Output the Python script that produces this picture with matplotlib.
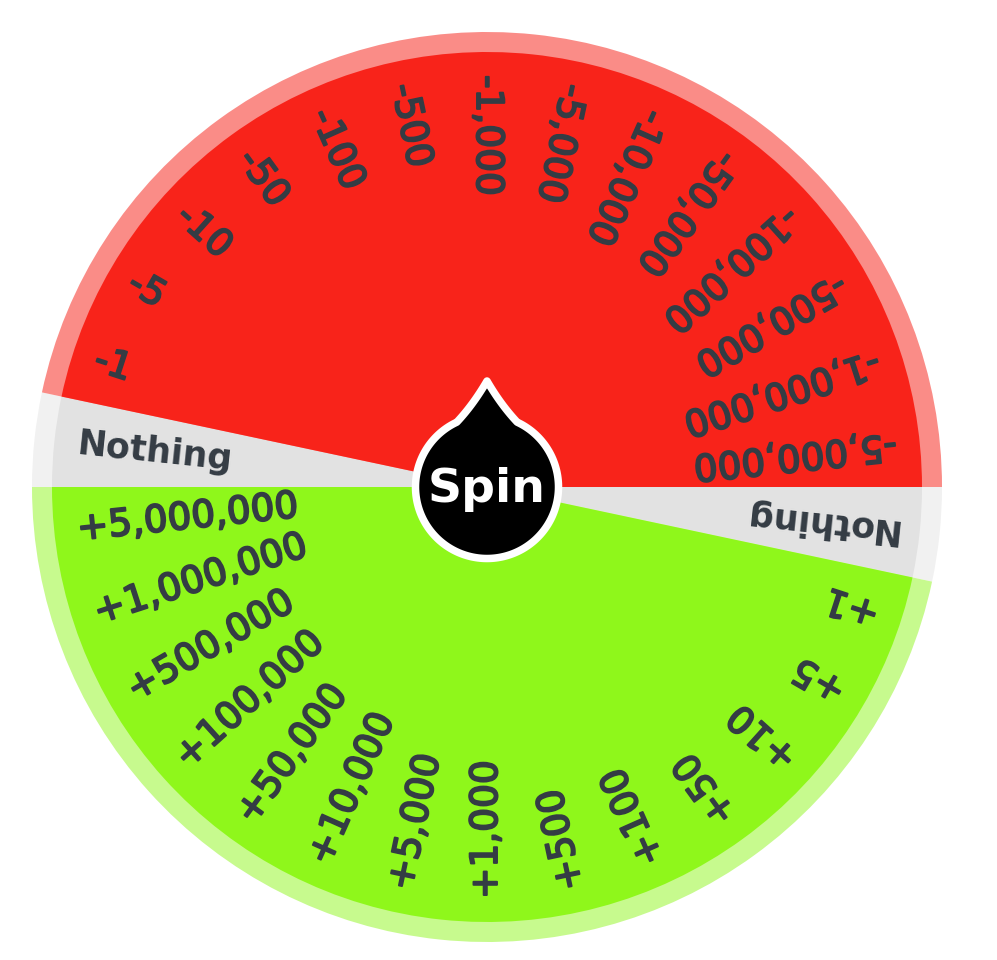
import numpy as np
import matplotlib
matplotlib.use("Agg")
from matplotlib import pyplot as plt
from matplotlib.patches import Wedge, Polygon
import matplotlib.patheffects as pe

# wheel entries, clockwise starting at the left edge (180 deg)
red_labels = ["-1", "-5", "-10", "-50", "-100", "-500", "-1,000", "-5,000",
              "-10,000", "-50,000", "-100,000", "-500,000", "-1,000,000",
              "-5,000,000"]
green_labels = ["+1", "+5", "+10", "+50", "+100", "+500", "+1,000", "+5,000",
                "+10,000", "+50,000", "+100,000", "+500,000", "+1,000,000",
                "+5,000,000"]
nothing_label = "Nothing"

labels = [nothing_label] + red_labels + [nothing_label] + green_labels
kinds = ["grey"] + ["red"] * len(red_labels) + ["grey"] + ["green"] * len(green_labels)

fill = {"red": "#f8231a", "green": "#8ff71b", "grey": "#e2e2e2"}
rim = {"red": "#fa8c87", "green": "#c7fa8e", "grey": "#f1f1f1"}
text_col = "#343c44"

W, H = 997, 960
cx, cy = 487, H - 487
R_out, R_in = 455, 435

fig = plt.figure(figsize=(W / 100, H / 100), dpi=100)
ax = fig.add_axes([0, 0, 1, 1])
ax.set_xlim(0, W)
ax.set_ylim(0, H)
ax.set_aspect("equal")
ax.axis("off")

n = len(labels)
step = 360.0 / n

# colour areas: one wedge per run of same-kind slices (no seams)
i = 0
while i < n:
    j = i
    while j + 1 < n and kinds[j + 1] == kinds[i]:
        j += 1
    a1 = 180 - i * step
    a0 = 180 - (j + 1) * step
    k = kinds[i]
    ax.add_patch(Wedge((cx, cy), R_out, a0, a1, facecolor=rim[k], lw=0))
    ax.add_patch(Wedge((cx, cy), R_in, a0, a1, facecolor=fill[k], lw=0))
    i = j + 1

for i, (lab, kind) in enumerate(zip(labels, kinds)):
    mid = np.deg2rad(180 - (i + 0.5) * step)
    r_txt = 412
    x = cx + r_txt * np.cos(mid)
    y = cy + r_txt * np.sin(mid)
    rot = np.rad2deg(mid) + 180
    if kind == "grey":
        ax.text(x, y, lab, rotation=rot, rotation_mode="anchor", ha="left", va="center",
                fontsize=25, fontweight="bold", color=text_col, family="DejaVu Sans")
    else:
        ax.text(x, y, lab, rotation=rot, rotation_mode="anchor", ha="left", va="center",
                fontsize=27, color=text_col, family="DejaVu Sans",
                path_effects=[pe.withStroke(linewidth=1.4, foreground=text_col)])

# spin button: circle with a pointer on top
Rb = 71.5
join = np.deg2rad(25)
arc = np.linspace(np.pi / 2 + join, np.pi / 2 + 2 * np.pi - join, 200)
pts = [(cx + Rb * np.cos(t), cy + Rb * np.sin(t)) for t in arc]
tip = np.array([cx, cy + 106])
p0 = np.array(pts[-1])
ctrl = np.array([cx + 14, cy + 82])
for t in np.linspace(0, 1, 30):
    pts.append(tuple((1 - t) ** 2 * p0 + 2 * (1 - t) * t * ctrl + t ** 2 * tip))
p1 = np.array(pts[0])
ctrl2 = np.array([cx - 14, cy + 82])
for t in np.linspace(0, 1, 30):
    pts.append(tuple((1 - t) ** 2 * tip + 2 * (1 - t) * t * ctrl2 + t ** 2 * p1))
ax.add_patch(Polygon(pts, closed=True, facecolor="black", edgecolor="white",
                     lw=5.4, joinstyle="round", zorder=5))
ax.text(cx, cy - 2, "Spin", ha="center", va="center", fontsize=34, fontweight="bold",
        color="white", family="DejaVu Sans", zorder=6)

fig.savefig("out.png", dpi=100, facecolor="white")
